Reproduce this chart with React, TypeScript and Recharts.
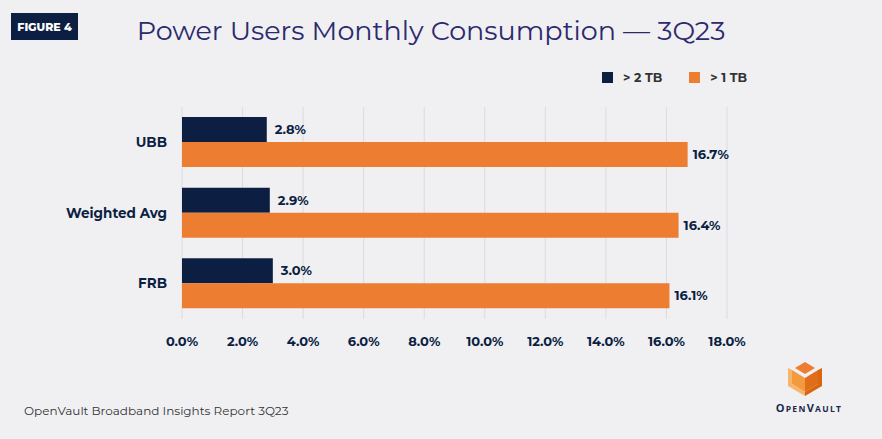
import { BarChart, Bar, XAxis, YAxis, CartesianGrid, LabelList } from "recharts";

const categories = ["UBB", "Weighted Avg", "FRB"];
const over2TB = [2.8, 2.9, 3.0];
const over1TB = [16.7, 16.4, 16.1];
const xTicks = [0, 2, 4, 6, 8, 10, 12, 14, 16, 18];
const seriesNames = ["> 2 TB", "> 1 TB"];

const NAVY = "#0c1f42";
const ORANGE = "#ed7d31";
const FONT = "Montserrat, 'Open Sans', sans-serif";

const data = categories.map((name, i) => ({ name, over2: over2TB[i], over1: over1TB[i] }));

const pct = (v: number) => `${Number(v).toFixed(1)}%`;

function LegendBox() {
  const colors = [NAVY, ORANGE];
  return (
    <div style={{ position: "absolute", left: 602, top: 70, display: "flex", gap: 27, fontFamily: FONT, fontWeight: 700, fontSize: 12.5, color: "#333" }}>
      {seriesNames.map((n, i) => (
        <div key={n} style={{ display: "flex", alignItems: "center" }}>
          <span style={{ width: 11, height: 11, background: colors[i], display: "inline-block", marginRight: 10 }} />
          {n}
        </div>
      ))}
    </div>
  );
}

function Logo() {
  return (
    <svg width={100} height={70} style={{ position: "absolute", left: 768, top: 356 }}>
      <polygon points="37,6 47,12 37,18 27,12" fill={ORANGE} />
      <polygon points="24,14 37,22 37,36 24,28" fill="#f39a3f" />
      <polygon points="50,14 37,22 37,36 50,28" fill="#e06d1a" />
      <polygon points="20,12 24,14 24,28 37,36 37,40 20,30" fill="#f7b56a" />
      <polygon points="54,12 50,14 50,28 37,36 37,40 54,30" fill="#d9650f" />
      <text x={41} y={56} textAnchor="middle" fontFamily="'Open Sans', sans-serif" fontSize={11} fontWeight={700}
        letterSpacing={1.3} fill="#1a2a4a">
        O<tspan fontSize={8.5}>PEN</tspan>V<tspan fontSize={8.5}>AULT</tspan>
      </text>
    </svg>
  );
}

export default function App() {
  return (
    <div style={{ position: "fixed", left: 0, top: 0, width: 882, height: 439, background: "#f0f0f3", overflow: "hidden", fontFamily: FONT }}>
      <div style={{ position: "absolute", left: 11, top: 13, width: 67, height: 27, background: NAVY, color: "#fff",
        fontSize: 11, fontWeight: 800, display: "flex", alignItems: "center", justifyContent: "center" }}>
        FIGURE 4
      </div>
      <div style={{ position: "absolute", left: 0, width: 862, top: 14, textAlign: "center", fontSize: 27, color: "#2c2a6c", fontWeight: 400 }}>
        Power Users Monthly Consumption — 3Q23
      </div>
      <LegendBox />
      <BarChart width={882} height={439} data={data} layout="vertical" barGap={0}
        margin={{ top: 107, right: 155, bottom: 0, left: 12 }} style={{ position: "absolute", left: 0, top: 0 }}>
        <CartesianGrid horizontal={false} stroke="#dcdce0" />
        <XAxis type="number" domain={[0, 18]} ticks={xTicks} tickFormatter={pct} axisLine={false} tickLine={false}
          height={120} tickMargin={12} interval={0}
          tick={{ fill: NAVY, fontSize: 13, fontWeight: 700, fontFamily: FONT, textAnchor: "middle" }} />
        <YAxis type="category" dataKey="name" width={170} axisLine={false} tickLine={false} tickMargin={9}
          tick={{ fill: NAVY, fontSize: 13.5, fontWeight: 700, fontFamily: FONT }} />
        <Bar dataKey="over2" name={seriesNames[0]} fill={NAVY} barSize={25} isAnimationActive={false}>
          <LabelList dataKey="over2" position="right" offset={8} formatter={pct}
            style={{ fill: NAVY, fontSize: 13, fontWeight: 700, fontFamily: FONT }} />
        </Bar>
        <Bar dataKey="over1" name={seriesNames[1]} fill={ORANGE} barSize={25} isAnimationActive={false}>
          <LabelList dataKey="over1" position="right" offset={5} formatter={pct}
            style={{ fill: NAVY, fontSize: 13, fontWeight: 700, fontFamily: FONT }} />
        </Bar>
      </BarChart>
      <div style={{ position: "absolute", left: 24, top: 403, fontSize: 12, color: "#333" }}>
        OpenVault Broadband Insights Report 3Q23
      </div>
      <Logo />
    </div>
  );
}
